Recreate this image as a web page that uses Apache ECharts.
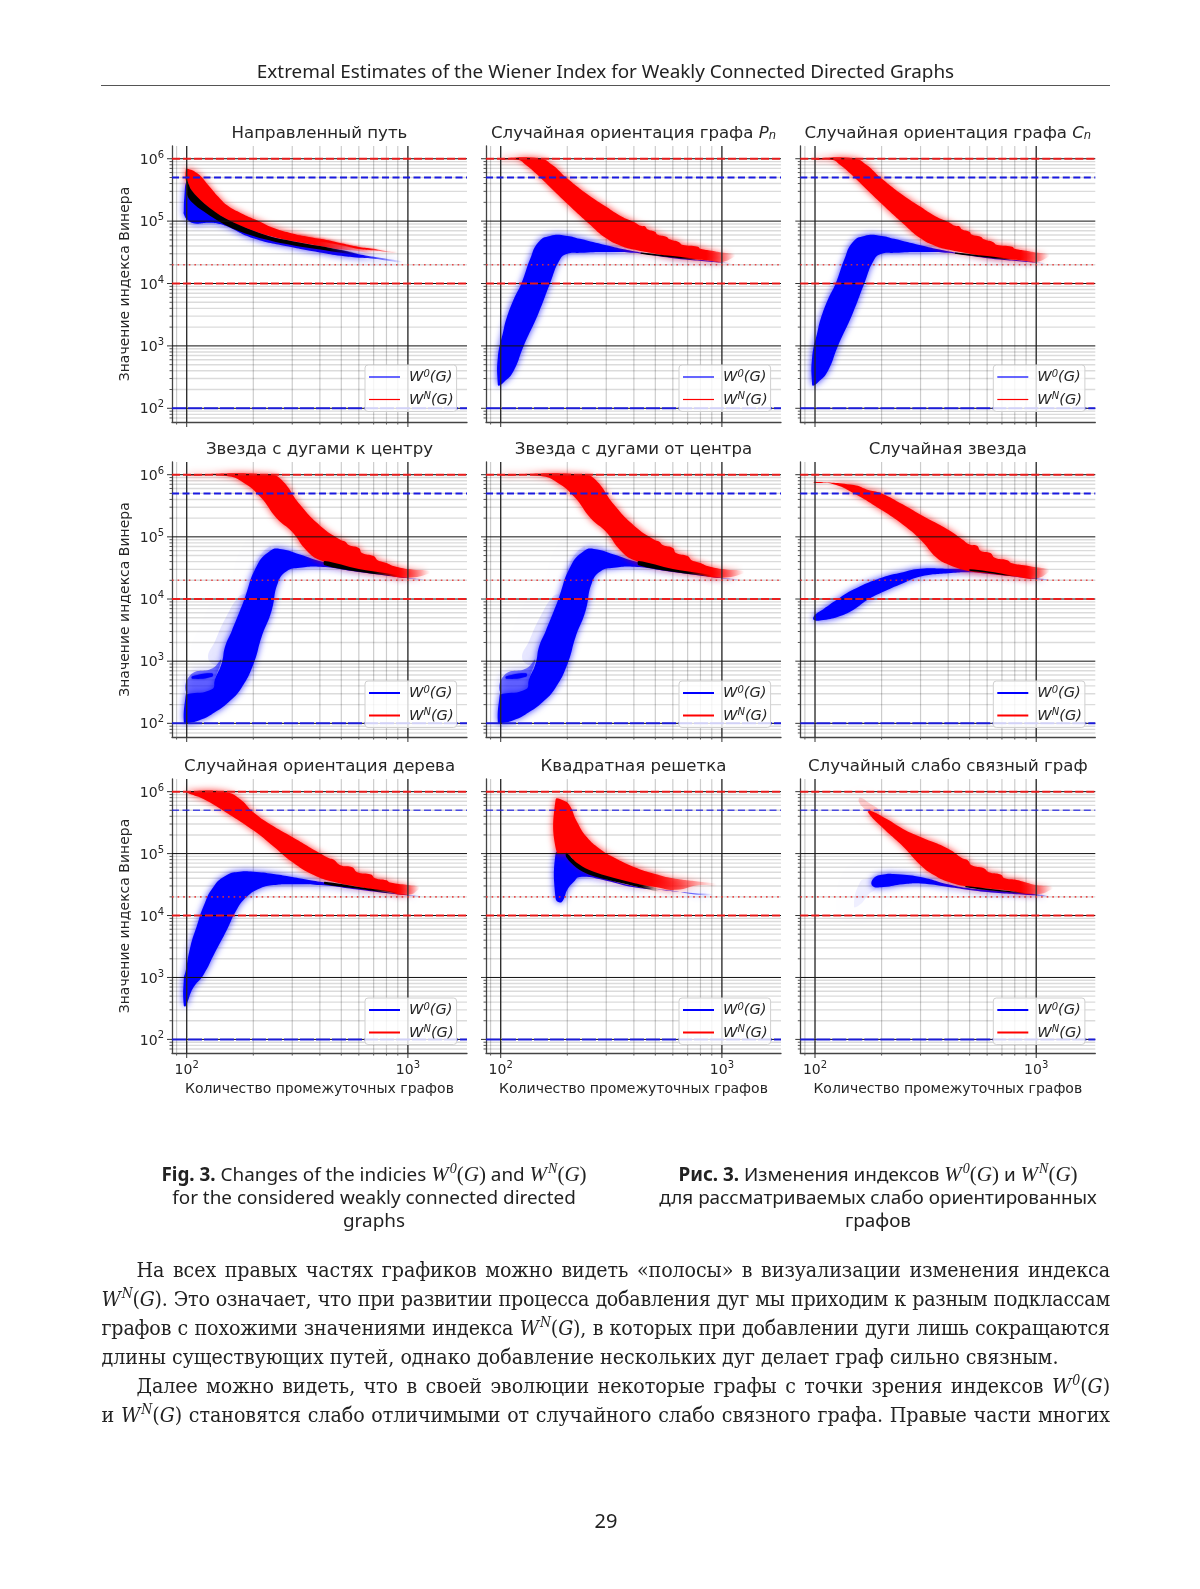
<!DOCTYPE html>
<html lang="ru"><head><meta charset="utf-8">
<style>
html,body{margin:0;padding:0;background:#fff;width:1200px;height:1589px;overflow:hidden}
#chart{position:absolute;left:0;top:0;width:1200px;height:1589px;filter:blur(.45px)}
.t{position:absolute;color:#222}
#hdr{left:101px;width:1009px;top:58px;text-align:center;font:18.9px "Noto Sans";line-height:26px;border-bottom:1px solid #555;height:27px}
.cap{font:18.9px/23px "Noto Sans";text-align:center;top:1163px}
.cap b{font-weight:700}
.m{font-family:"Liberation Serif";font-style:italic;font-size:21px}
.m sup{font-size:14px;line-height:0;font-style:italic;margin-left:1px}
.u{font-style:normal}
.l{position:absolute;left:101.5px;width:1008.5px;height:29px;font:21.2px/29px "DejaVu Serif Condensed";color:#222;white-space:nowrap}
.l.fit{text-align:justify;text-align-last:justify}
.l i{font-size:21px}
.l sup{font-size:14px;line-height:0;margin-left:1px}
.ind{padding-left:35px;box-sizing:border-box}
#pg{left:0;width:1212px;top:1508px;text-align:center;font:20px/26px "Noto Sans"}
</style>
<script src="https://cdn.jsdelivr.net/npm/echarts@6/dist/echarts.min.js"></script>
</head><body>
<div id="chart"></div>
<div class="t" id="hdr">Extremal Estimates of the Wiener Index for Weakly Connected Directed Graphs</div>
<div class="t cap" style="left:150px;width:448px"><b>Fig. 3.</b> Changes of the indicies <span class="m">W<sup>0</sup><span class="u">(</span>G<span class="u">)</span></span> and <span class="m">W<sup>N</sup><span class="u">(</span>G<span class="u">)</span></span><br>for the considered weakly connected directed<br>graphs</div>
<div class="t cap" style="left:648px;width:460px"><b>Рис. 3.</b> Изменения индексов <span class="m">W<sup>0</sup><span class="u">(</span>G<span class="u">)</span></span> и <span class="m">W<sup>N</sup><span class="u">(</span>G<span class="u">)</span></span><br>для рассматриваемых слабо ориентированных<br>графов</div>
<div class="l fit ind" style="top:1255px">На всех правых частях графиков можно видеть «полосы» в визуализации изменения индекса</div>
<div class="l fit" style="top:1284px"><i>W<sup>N</sup></i>(<i>G</i>). Это означает, что при развитии процесса добавления дуг мы приходим к разным подклассам</div>
<div class="l fit" style="top:1313px">графов с похожими значениями индекса <i>W<sup>N</sup></i>(<i>G</i>), в которых при добавлении дуги лишь сокращаются</div>
<div class="l" style="top:1342px">длины существующих путей, однако добавление нескольких дуг делает граф сильно связным.</div>
<div class="l fit ind" style="top:1371px">Далее можно видеть, что в своей эволюции некоторые графы с точки зрения индексов <i>W<sup>0</sup></i>(<i>G</i>)</div>
<div class="l fit" style="top:1400px">и <i>W<sup>N</sup></i>(<i>G</i>) становятся слабо отличимыми от случайного слабо связного графа. Правые части многих</div>
<div class="t" id="pg">29</div>
<script>
// fit the paragraph lines: tighten the letters of a line that is too long, then justify it
document.querySelectorAll('.l.fit').forEach(el => {
  const r = document.createRange(); r.selectNodeContents(el);
  const cs = getComputedStyle(el), avail = el.clientWidth - parseFloat(cs.paddingLeft) - parseFloat(cs.paddingRight);
  const w = r.getBoundingClientRect().width, n = el.textContent.length;
  if (w > avail - 6) el.style.letterSpacing = ((avail - 6 - w) / n) + 'px';
  el.style.whiteSpace = 'normal';
});

// ---- axis ticks ----
const xMajorTicks = [100, 1000];
const xMinorTicks = [90, 200, 300, 400, 500, 600, 700, 800, 900];
const yMajorTicks = [100, 1000, 10000, 100000, 1000000];
const yMinorTicks = [70, 80, 90, 200, 300, 400, 500, 600, 700, 800, 900,
  2000, 3000, 4000, 5000, 6000, 7000, 8000, 9000,
  20000, 30000, 40000, 50000, 60000, 70000, 80000, 90000,
  200000, 300000, 400000, 500000, 600000, 700000, 800000, 900000];
const refRedDashed = [1000000, 10000];
const refBlueDashed = [500000, 100];
const refRedDotted = [20000];

// ---- titles ----
const titles = ['Направленный путь', 'Случайная ориентация графа {i|P}{s|n}', 'Случайная ориентация графа {i|C}{s|n}',
  'Звезда с дугами к центру', 'Звезда с дугами от центра', 'Случайная звезда',
  'Случайная ориентация дерева', 'Квадратная решетка', 'Случайный слабо связный граф'];

// ---- band outlines: [graphs, index] going right along the upper edge, back along the lower edge ----
const pathBlue = [[97,1.45e5],[97.5,2.3e5],[100,4.3e5],[105,3e5],[120,1.9e5],[150,1.1e5],[200,7e4],[250,5.4e4],[300,4.7e4],[400,3.9e4],[500,3.4e4],[600,2.95e4],[800,2.5e4],[950,2.25e4],
  [950,2.15e4],[800,2.34e4],[700,2.5e4],[600,2.58e4],[500,2.78e4],[400,3.15e4],[300,3.8e4],[200,5.3e4],[150,8.4e4],[139,9.1e4],[125,9.4e4],[109,9.2e4],[101,1.04e5],[97,1.3e5]];
const pathRed = [[99,6.6e5],[100,7e5],[112,5.8e5],[125,3.8e5],[139,2.46e5],[154,1.74e5],[177,1.33e5],[204,1.06e5],[251,7.6e4],[300,6.35e4],[400,5e4],[500,4.3e4],[600,3.8e4],[700,3.5e4],
  [700,3e4],[600,3.3e4],[500,3.5e4],[400,4e4],[300,4.8e4],[250,5.5e4],[200,7e4],[150,1.1e5],[120,1.9e5],[105,3.1e5],[100,4.5e5],[99,4.5e5]];
const pathStripe = [[300,5.9e4],[400,5.2e4],[500,4.4e4],[600,3.85e4],[700,3.6e4],[800,3.3e4],[900,3.2e4],
  [900,3.1e4],[800,3.2e4],[700,3.4e4],[600,3.58e4],[500,4.1e4],[400,4.72e4],[300,5.1e4]];
const pathBlack = [[100,4.55e5],[105,3.15e5],[120,1.92e5],[150,1.1e5],[200,7e4],[250,5.4e4],[300,4.78e4],[400,3.98e4],[500,3.43e4],[600,3e4],
  [600,2.8e4],[500,3.1e4],[400,3.5e4],[300,4.12e4],[250,4.67e4],[200,5.75e4],[150,8.6e4],[120,1.41e5],[105,2.05e5],[100,2.78e5]];

const randPathBlue = [[97,2.4e2],[97,6.4e2],[103,1.8e3],[106,2.7e3],[114,5.4e3],[124,1e4],[136,2.5e4],[148,4.6e4],[167,5.8e4],[200,5.8e4],[228,5.2e4],[300,4.1e4],[400,3.3e4],[600,2.65e4],[1000,2.2e4],[1100,2.1e4],
  [1100,2.05e4],[1000,2.15e4],[600,2.55e4],[400,3.1e4],[300,3.2e4],[228,3.1e4],[200,3e4],[185,2.4e4],[167,1e4],[148,3.3e3],[127,1e3],[114,3.9e2],[103,2.6e2],[98,2.3e2]];
const randPathRed = [[100,1.015e6],[150,1.01e6],[170,8.1e5],[200,4.8e5],[250,2.6e5],[300,1.7e5],[350,1.2e5],[400,9.7e4],[430,8.4e4],[450,8.2e4],[460,7.4e4],[500,6.7e4],[510,6.1e4],[560,5.6e4],[580,5.1e4],[640,4.6e4],[660,4.2e4],[780,3.9e4],[800,3.6e4],[900,3.35e4],[1000,3.15e4],[1150,2.95e4],
  [1150,2.75e4],[1000,2.2e4],[900,2.3e4],[800,2.4e4],[700,2.5e4],[600,2.65e4],[500,3e4],[400,3.5e4],[350,4e4],[300,5.3e4],[250,9.2e4],[200,1.9e5],[170,3.3e5],[150,5.1e5],[130,7.9e5],[120,9.5e5],[100,9.7e5]];
const randPathBlack = [[430,3.15e4],[600,2.75e4],[780,2.45e4],[780,2.35e4],[600,2.6e4],[430,3e4]];

const starInBlue = [[97,1.05e2],[99,2.9e2],[100,2.94e2],[130,3.52e2],[134,5.07e2],[144,9.29e2],[149,1.7e3],[160,3.1e3],[181,9.3e3],[207,3.37e4],[238,5.9e4],[264,6.4e4],[325,5.2e4],[402,4.05e4],[567,3e4],[1000,2.2e4],[1200,2.05e4],
  [1200,2e4],[1000,2.15e4],[567,2.8e4],[402,3.3e4],[325,3.17e4],[283,2.8e4],[258,1.8e4],[242,6.5e3],[218,2.45e3],[201,9.3e2],[177,3.75e2],[154,2.17e2],[134,1.51e2],[117,1.16e2],[100,1e2]];
const starInPale = [[125,1.1e3],[135,2.2e3],[150,5e3],[172,1.1e4],[187,1.3e4],[207,4e4],[238,7e4],[238,5e4],[207,2.5e4],[187,8e3],[163,2.2e3],[140,9e2]];
const starInSteps = [[101,3e2],[104,6e2],[131,7.7e2],[143,1.05e3],[134,5e2],[130,3.4e2]];
const starInStripe = [[106,5.7e2],[130,6.4e2],[130,5.6e2],[106,5.2e2]];
const starInRed = [[100,1.01e6],[238,1.01e6],[269,8.2e5],[325,3.3e5],[402,1.5e5],[495,9e4],[520,8.4e4],[540,7.4e4],[600,6.6e4],[620,5.5e4],[700,4.9e4],[730,4.2e4],[800,3.8e4],[860,3.4e4],[1024,3e4],[1260,2.8e4],
  [1260,2.6e4],[1000,2.2e4],[772,2.5e4],[608,2.9e4],[495,3.4e4],[402,4.2e4],[349,6e4],[300,1.2e5],[255,2e5],[215,4.4e5],[180,7.5e5],[151,9.5e5],[100,9.75e5]];
const starInBlack = [[420,4.1e4],[600,3.05e4],[800,2.6e4],[900,2.4e4],[900,2.3e4],[800,2.4e4],[600,2.75e4],[420,3.5e4]];

const randStarBlue = [[99,4.6e3],[99,5.35e3],[109,6.84e3],[125,9.6e3],[150,1.43e4],[200,2.2e4],[250,2.7e4],[300,3.06e4],[400,3.06e4],[500,3e4],[600,2.7e4],[1000,2.15e4],[1150,2.05e4],
  [1150,2e4],[1000,2.1e4],[600,2.55e4],[500,2.7e4],[400,2.6e4],[300,2.3e4],[250,1.8e4],[200,1.27e4],[172,9.6e3],[150,6.8e3],[130,5.35e3],[109,4.6e3]];
const randStarRed = [[99,7.7e5],[150,6.8e5],[171,5.8e5],[200,5e5],[250,3.3e5],[300,2.26e5],[400,1.3e5],[465,9e4],[500,7.5e4],[540,7.2e4],[560,6e4],[620,5.5e4],[650,4.6e4],[740,4.2e4],[770,3.8e4],[880,3.5e4],[1000,3.25e4],[1150,3e4],
  [1150,2.8e4],[1000,2.15e4],[800,2.3e4],[600,2.6e4],[500,2.8e4],[400,3.6e4],[355,4.6e4],[300,9e4],[250,1.57e5],[200,2.7e5],[150,5e5],[120,7.1e5],[99,7.4e5]];
const randStarBlack = [[500,3e4],[600,2.8e4],[800,2.35e4],[800,2.3e4],[600,2.65e4],[500,2.85e4]];

const treeBlue = [[97,3.5e2],[97,9.3e2],[99,1.3e3],[104,3.2e3],[111,6.7e3],[119,1.4e4],[132,2.9e4],[152,4.5e4],[174,5.1e4],[200,5.1e4],[247,4.7e4],[300,4.2e4],[402,3.5e4],[600,2.75e4],[1000,2.15e4],[1150,2.05e4],
  [1150,2e4],[1000,2.1e4],[600,2.6e4],[402,3.1e4],[300,3.2e4],[247,3.1e4],[215,2.75e4],[187,2e4],[168,1.23e4],[152,5.9e3],[134,2.5e3],[119,1.1e3],[107,6.8e2],[99,3.47e2]];
const treeRed = [[100,1.015e6],[151,9.8e5],[174,7.6e5],[200,4.66e5],[247,2.75e5],[300,1.85e5],[402,1e5],[440,8.4e4],[460,8e4],[495,6.5e4],[560,6e4],[590,5e4],[680,4.6e4],[710,4e4],[800,3.7e4],[830,3.4e4],[1000,3.1e4],[1130,2.9e4],
  [1130,2.7e4],[1000,2.15e4],[800,2.45e4],[600,2.9e4],[460,3.5e4],[375,4.5e4],[300,7.3e4],[247,1.3e5],[200,2.37e5],[150,4.66e5],[119,7.6e5],[100,9.7e5]];
const treeBlack = [[420,3.5e4],[600,2.9e4],[900,2.35e4],[900,2.2e4],[600,2.7e4],[420,3.2e4]];

const gridRed = [[177,7.35e5],[192,7.2e5],[205,6e5],[220,3.4e5],[245,1.85e5],[280,1.2e5],[322,8.8e4],[400,6.1e4],[500,4.7e4],[600,4e4],[800,3.5e4],[1000,3.1e4],
  [1000,2.9e4],[800,3.1e4],[620,2.6e4],[500,2.9e4],[400,3.3e4],[300,4.2e4],[253,5.2e4],[220,7e4],[200,1e5],[179,1.06e5]];
const gridBlue = [[177,1.9e4],[177,1e5],[188,1.06e5],[200,1e5],[220,6.5e4],[253,4.8e4],[300,3.9e4],[400,3e4],[500,2.65e4],[740,2.3e4],[910,2.2e4],
  [910,2.1e4],[740,2.2e4],[600,2.5e4],[400,2.85e4],[300,3.65e4],[228,4.2e4],[214,3.5e4],[200,2.6e4],[192,1.8e4],[185,1.62e4]];
const gridBlack = [[198,1.03e5],[220,7.2e4],[250,5.5e4],[300,4.4e4],[400,3.35e4],[520,2.7e4],[520,2.45e4],[400,3e4],[300,3.8e4],[250,4.6e4],[220,5.9e4],[198,8.7e4]];

const randomBlue = [[182,3e4],[184,4e4],[204,4.6e4],[226,4.7e4],[300,4.2e4],[400,3.2e4],[500,2.75e4],[600,2.6e4],[1000,2.2e4],[1150,2.05e4],
  [1150,2e4],[1000,2.1e4],[600,2.4e4],[400,2.9e4],[300,3.3e4],[250,3.2e4],[204,2.9e4]];
const randomPaleBlue = [[150,1.4e4],[160,3.5e4],[175,4e4],[190,4.2e4],[190,2.8e4],[175,2.2e4],[160,1.5e4]];
const randomRed = [[177,4.95e5],[211,3.6e5],[250,2.5e5],[300,1.85e5],[400,1.2e5],[465,8.3e4],[490,7.8e4],[510,6.5e4],[580,5.8e4],[610,5e4],[690,4.6e4],[720,4e4],[800,3.8e4],[900,3.4e4],[1000,3.1e4],[1190,2.9e4],
  [1190,2.7e4],[1000,2.2e4],[700,2.6e4],[500,2.9e4],[400,3.5e4],[345,4.5e4],[300,6.5e4],[250,1.3e5],[200,2.7e5],[174,4.6e5]];
const randomPaleRed = [[158,6.8e5],[160,8e5],[175,6.6e5],[195,4.8e5],[185,3.7e5],[170,5e5]];
const randomBlack = [[480,3e4],[640,2.65e4],[900,2.3e4],[900,2.25e4],[640,2.5e4],[480,2.85e4]];

const BLUE = '#0000ff', RED = '#ff0000', BLACK = '#000000';
const W0 = 'W⁰(G)', WN = 'Wᴺ(G)';
const starBands = [{d:starInPale,c:BLUE,o:.09,n:W0,w:16},{d:starInSteps,c:BLUE,o:.5,w:8},{d:starInBlue,c:BLUE,f:[950,1200]},{d:starInStripe,c:BLUE,w:2},{d:starInRed,c:RED,f:[900,1260],n:WN},{d:starInBlack,c:BLACK,f:[700,900],b:1}];
const randPathBands = [{d:randPathBlue,c:BLUE,f:[900,1100],n:W0},{d:randPathRed,c:RED,f:[850,1150],n:WN},{d:randPathBlack,c:BLACK,f:[650,780],b:1}];
const panelBands = [
  [{d:pathBlue,c:BLUE,f:[620,950],n:W0},{d:pathRed,c:RED,f:[380,700],n:WN},{d:pathStripe,c:RED,f:[650,900],w:3},{d:pathBlack,c:BLACK,f:[430,600],b:1}],
  randPathBands, randPathBands, starBands, starBands,
  [{d:randStarBlue,c:BLUE,f:[950,1150],n:W0},{d:randStarRed,c:RED,f:[900,1150],n:WN},{d:randStarBlack,c:BLACK,f:[700,800],b:1}],
  [{d:treeBlue,c:BLUE,f:[950,1150],n:W0},{d:treeRed,c:RED,f:[900,1130],n:WN},{d:treeBlack,c:BLACK,f:[700,900],b:1}],
  [{d:gridBlue,c:BLUE,f:[620,910],n:W0},{d:gridRed,c:RED,f:[480,950],n:WN},{d:gridBlack,c:BLACK,f:[430,520],b:1}],
  [{d:randomPaleBlue,c:BLUE,o:.06,n:W0,w:16},{d:randomBlue,c:BLUE,f:[950,1150]},{d:randomPaleRed,c:RED,o:.18,n:WN,w:12},{d:randomRed,c:RED,f:[850,1190]},{d:randomBlack,c:BLACK,f:[750,900],b:1}]
];

const colLeft = [172, 486, 800.3], rowTop = [146, 462, 779], rowH = [276, 275, 274];
const GW = 295, XMIN = 85.8, XMAX = 1850, YMIN = 60.3, YMAX = 1.6e6;
const FONT = '"DejaVu Sans"', TXT = '#262626';

function hexA(c, a) { const r = parseInt(c.slice(1,3),16), g = parseInt(c.slice(3,5),16), b = parseInt(c.slice(5,7),16); return `rgba(${r},${g},${b},${a})`; }

function bandSeries(b, g) {
  return { type:'custom', name:b.n, xAxisIndex:g, yAxisIndex:g, z:2, silent:true, animation:false, clip:false,
    color:b.c, itemStyle:{color:b.c}, encode:{x:0,y:1}, data:b.d,
    renderItem(params, api) {
      if (params.dataIndex !== 0) return null;
      const pts = b.d.map(p => api.coord(p));
      let fill = hexA(b.c, b.o == null ? 1 : b.o);
      if (b.f) {
        const a = api.coord([b.f[0], 1e4])[0], e = api.coord([b.f[1], 1e4])[0];
        fill = new echarts.graphic.LinearGradient(a, 0, e, 0, [{offset:0,color:b.c},{offset:1,color:hexA(b.c,0)}], true);
      }
      return { type:'polygon', shape:{points:pts, smooth:b.b ? 0.35 : 0.5}, silent:true,
        style:{fill, shadowBlur:b.b ? 0 : (b.w || 7), shadowColor:b.b ? 'transparent' : hexA(b.c, b.o == null ? .8 : b.o)} };
    } };
}

function hLines(vals, g, z, stroke, w, tickLen, tickColor) {
  return { type:'custom', xAxisIndex:g, yAxisIndex:g, z, silent:true, animation:false, clip:false,
    encode:{y:0}, data:vals.map(v => [XMIN, v]),
    renderItem(params, api) {
      const cs = params.coordSys, y = api.coord([XMIN, api.value(1)])[1];
      return { type:'group', silent:true, children:[
        {type:'line', shape:{x1:cs.x, y1:y, x2:cs.x + cs.width, y2:y}, style:{stroke, lineWidth:w}},
        {type:'line', shape:{x1:cs.x - tickLen, y1:y, x2:cs.x, y2:y}, style:{stroke:tickColor, lineWidth:1}}
      ]};
    } };
}
function vLines(vals, g, z, stroke, w, tickLen, tickColor) {
  return { type:'custom', xAxisIndex:g, yAxisIndex:g, z, silent:true, animation:false, clip:false,
    encode:{x:0}, data:vals.map(v => [v, 1e4]),
    renderItem(params, api) {
      const cs = params.coordSys, x = api.coord([api.value(0), 1e4])[0];
      return { type:'group', silent:true, children:[
        {type:'line', shape:{x1:x, y1:cs.y, x2:x, y2:cs.y + cs.height}, style:{stroke, lineWidth:w}},
        {type:'line', shape:{x1:x, y1:cs.y + cs.height, x2:x, y2:cs.y + cs.height + tickLen}, style:{stroke:tickColor, lineWidth:1}}
      ]};
    } };
}
function refLine(v, g, color, width, dash, opacity) {
  return { type:'line', xAxisIndex:g, yAxisIndex:g, z:4, silent:true, animation:false, symbol:'none',
    data:[[XMIN, v],[XMAX, v]], lineStyle:{color, width, type:dash, opacity} };
}
function tenPow(v) {
  const e = v < 20 && v >= 1 && v !== 10 ? v : Math.round(Math.log10(v));
  return '{b|10}{s|' + e + '}';
}
const powRich = { b:{fontFamily:FONT,fontSize:14,color:TXT,lineHeight:17,verticalAlign:'bottom'}, s:{fontFamily:FONT,fontSize:10,color:TXT,lineHeight:17,verticalAlign:'top'} };

const grid=[], xAxis=[], yAxis=[], title=[], legend=[], series=[];
for (let g = 0; g < 9; g++) {
  const col = g % 3, row = Math.floor(g / 3), L = colLeft[col], T = rowTop[row], H = rowH[row];
  grid.push({left:L, top:T, width:GW, height:H, containLabel:false});
  xAxis.push({type:'log', logBase:10, gridIndex:g, min:XMIN, max:XMAX, splitLine:{show:false}, minorSplitLine:{show:false},
    axisLine:{show:true, onZero:false, lineStyle:{color:'#444', width:1.3}}, axisTick:{show:false}, minorTick:{show:false},
    axisLabel:{show:row === 2, customValues:xMajorTicks, margin:7, formatter:tenPow, rich:powRich},
    name:row === 2 ? 'Количество промежуточных графов' : '', nameLocation:'middle', nameGap:29,
    nameTextStyle:{fontFamily:FONT, fontSize:14, color:TXT}});
  yAxis.push({type:'log', logBase:10, gridIndex:g, min:YMIN, max:YMAX, splitLine:{show:false}, minorSplitLine:{show:false},
    axisLine:{show:true, onZero:false, lineStyle:{color:'#444', width:1.3}}, axisTick:{show:false}, minorTick:{show:false},
    axisLabel:{show:col === 0, customValues:yMajorTicks, margin:8, formatter:tenPow, rich:powRich},
    name:col === 0 ? 'Значение индекса Винера' : '', nameLocation:'middle', nameGap:40, nameRotate:90,
    nameTextStyle:{fontFamily:FONT, fontSize:14, color:TXT}});
  title.push({text:titles[g], left:L + GW / 2, top:T - 12.5, textAlign:'center', textVerticalAlign:'middle', padding:0,
    textStyle:{fontFamily:FONT, fontSize:16.6, fontWeight:'normal', color:TXT,
      rich:{i:{fontFamily:FONT, fontSize:16.6, fontStyle:'italic', color:TXT}, s:{fontFamily:FONT, fontSize:11.5, fontStyle:'italic', color:TXT, verticalAlign:'bottom', lineHeight:13}}}});
  const legendRich = { w:{fontFamily:FONT, fontSize:14.6, fontStyle:'italic', color:TXT, lineHeight:16, verticalAlign:'bottom'}, u:{fontFamily:FONT, fontSize:10, fontStyle:'italic', color:TXT, lineHeight:16, verticalAlign:'top'} };
  legend.push({show:true, orient:'vertical', left:L + 193, top:T + 219, z:10, selectedMode:false,
    data:[{name:W0, icon:'rect'},{name:WN, icon:'rect'}], itemWidth:31, itemHeight:row === 0 ? 1.2 : 2, itemGap:6.5,
    padding:[4,3,4,4], borderColor:'#d0d0d0', borderWidth:1, borderRadius:3, backgroundColor:'rgba(255,255,255,.8)',
    textStyle:{rich:legendRich, padding:[0,0,0,4]},
    formatter:n => n === W0 ? '{w|W}{u|0}{w|(G)}' : '{w|W}{u|N}{w|(G)}'});
  series.push(hLines(yMinorTicks, g, 1, 'rgba(0,0,0,.14)', 1.4, 2.5, '#555'));
  series.push(vLines(xMinorTicks, g, 1, 'rgba(0,0,0,.2)', 1.2, 2.5, '#555'));
  panelBands[g].forEach(b => series.push(bandSeries(b, g)));
  series.push(hLines(yMajorTicks, g, 3, '#111', 1, 5, '#333'));
  series.push(vLines(xMajorTicks, g, 3, '#222', 1.3, 5, '#333'));
  const strong = row < 2;
  refRedDashed.forEach(v => series.push(refLine(v, g, '#f01a1a', 2, [8,3], .95)));
  series.push(refLine(refBlueDashed[0], g, '#1a1ae0', strong ? 2 : 1.4, [7,3.5], strong ? 1 : .75));
  series.push(refLine(refBlueDashed[1], g, '#1a1ae0', 2, [14,2], .95));
  refRedDotted.forEach(v => series.push(refLine(v, g, '#e83030', 1.6, [1.6,4], .85)));
}
const chart = echarts.init(document.getElementById('chart'), null, {renderer:'canvas'});
chart.setOption({animation:false, backgroundColor:'#fff', tooltip:{show:false}, title, legend, grid, xAxis, yAxis, series});
</script>
</body></html>
